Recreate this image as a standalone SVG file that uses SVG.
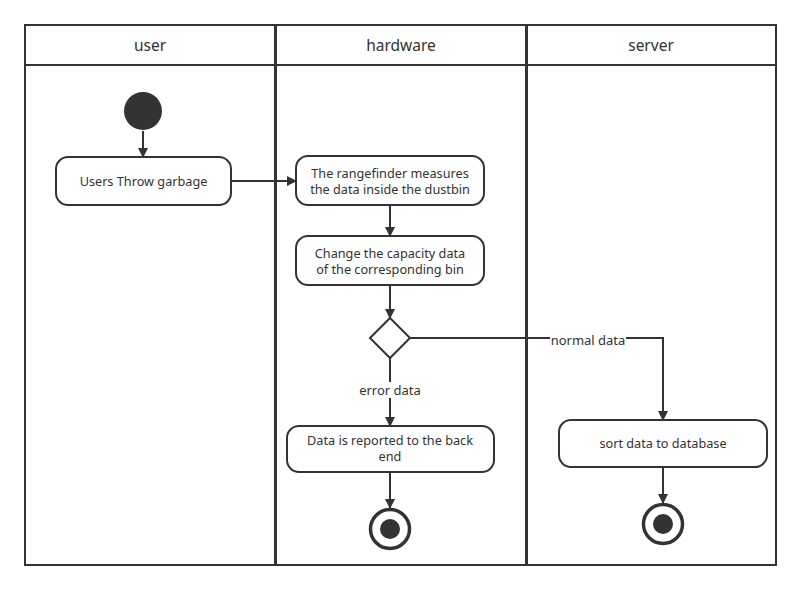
<svg xmlns="http://www.w3.org/2000/svg" width="802" height="590" viewBox="0 0 802 590">
<defs>
<marker id="ah" markerWidth="10" markerHeight="10" refX="9" refY="5" orient="auto" markerUnits="userSpaceOnUse">
<path d="M0,0 L10,5 L0,10 Z" fill="#333"/>
</marker>
<style>
.lane{fill:none;stroke:#333;stroke-width:2}
.div{stroke:#333;stroke-width:3}
.hd{font-family:"Noto Sans","Open Sans",sans-serif;font-size:15.500px;fill:#333;text-anchor:middle}
.box{fill:#fff;stroke:#333;stroke-width:2}
.t{font-family:"Noto Sans","Open Sans",sans-serif;font-size:12.700px;fill:#333;text-anchor:middle}
.c{fill:none;stroke:#333;stroke-width:2;marker-end:url(#ah)}
.lbl{font-family:"Noto Sans","Open Sans",sans-serif;font-size:13px;fill:#333;text-anchor:middle}
</style>
</defs>
<rect width="802" height="590" fill="#fff"/>
<g id="lanes">
<rect class="lane" x="25" y="25" width="751" height="540"/>
<line class="lane" x1="25" y1="65" x2="776" y2="65"/>
<line class="div" x1="275.500" y1="25" x2="275.500" y2="565"/>
<line class="div" x1="526.500" y1="25" x2="526.500" y2="565"/>
<text class="hd" x="150" y="51">user</text>
<text class="hd" x="401" y="51">hardware</text>
<text class="hd" x="651" y="51">server</text>
</g>
<g id="connectors">
<path class="c" d="M143,131 L143,157"/>
<path class="c" d="M231,181 L296,181"/>
<path class="c" d="M390,205 L390,236"/>
<path class="c" d="M390,285 L390,318"/>
<path class="c" d="M410,338 L663,338 L663,420"/>
<path class="c" d="M390,358 L390,426"/>
<path class="c" d="M390,472 L390,508"/>
<path class="c" d="M663,467 L663,503"/>
<rect x="550" y="332" width="76" height="15" fill="#fff"/>
<text class="lbl" x="588" y="345">normal data</text>
<rect x="356" y="382" width="68" height="16" fill="#fff"/>
<text class="lbl" x="390" y="395">error data</text>
</g>
<g id="start"><circle cx="143" cy="111" r="19" fill="#333"/></g>
<g id="n1"><rect class="box" x="56" y="157" width="175" height="48" rx="12"/><text class="t" x="143.500" y="186">Users Throw garbage</text></g>
<g id="n2"><rect class="box" x="296" y="156" width="188" height="49" rx="12"/><text class="t" x="390" y="177.500">The rangefinder measures</text><text class="t" x="390" y="194">the data inside the dustbin</text></g>
<g id="n3"><rect class="box" x="296" y="236" width="188" height="49" rx="12"/><text class="t" x="390" y="257.500">Change the capacity data</text><text class="t" x="390" y="274">of the corresponding bin</text></g>
<g id="dec"><path class="box" d="M390,318 L410,338 L390,358 L370,338 Z"/></g>
<g id="n4"><rect class="box" x="287" y="426" width="207" height="46" rx="12"/><text class="t" x="390" y="444.500">Data is reported to the back</text><text class="t" x="390" y="461">end</text></g>
<g id="n5"><rect class="box" x="559" y="420" width="208" height="47" rx="12"/><text class="t" x="663" y="448">sort data to database</text></g>
<g id="end1"><circle cx="390" cy="529" r="19.500" fill="#fff" stroke="#333" stroke-width="3.500"/><circle cx="390" cy="529" r="10" fill="#333"/></g>
<g id="end2"><circle cx="663" cy="524" r="19.500" fill="#fff" stroke="#333" stroke-width="3.500"/><circle cx="663" cy="524" r="10" fill="#333"/></g>
</svg>
